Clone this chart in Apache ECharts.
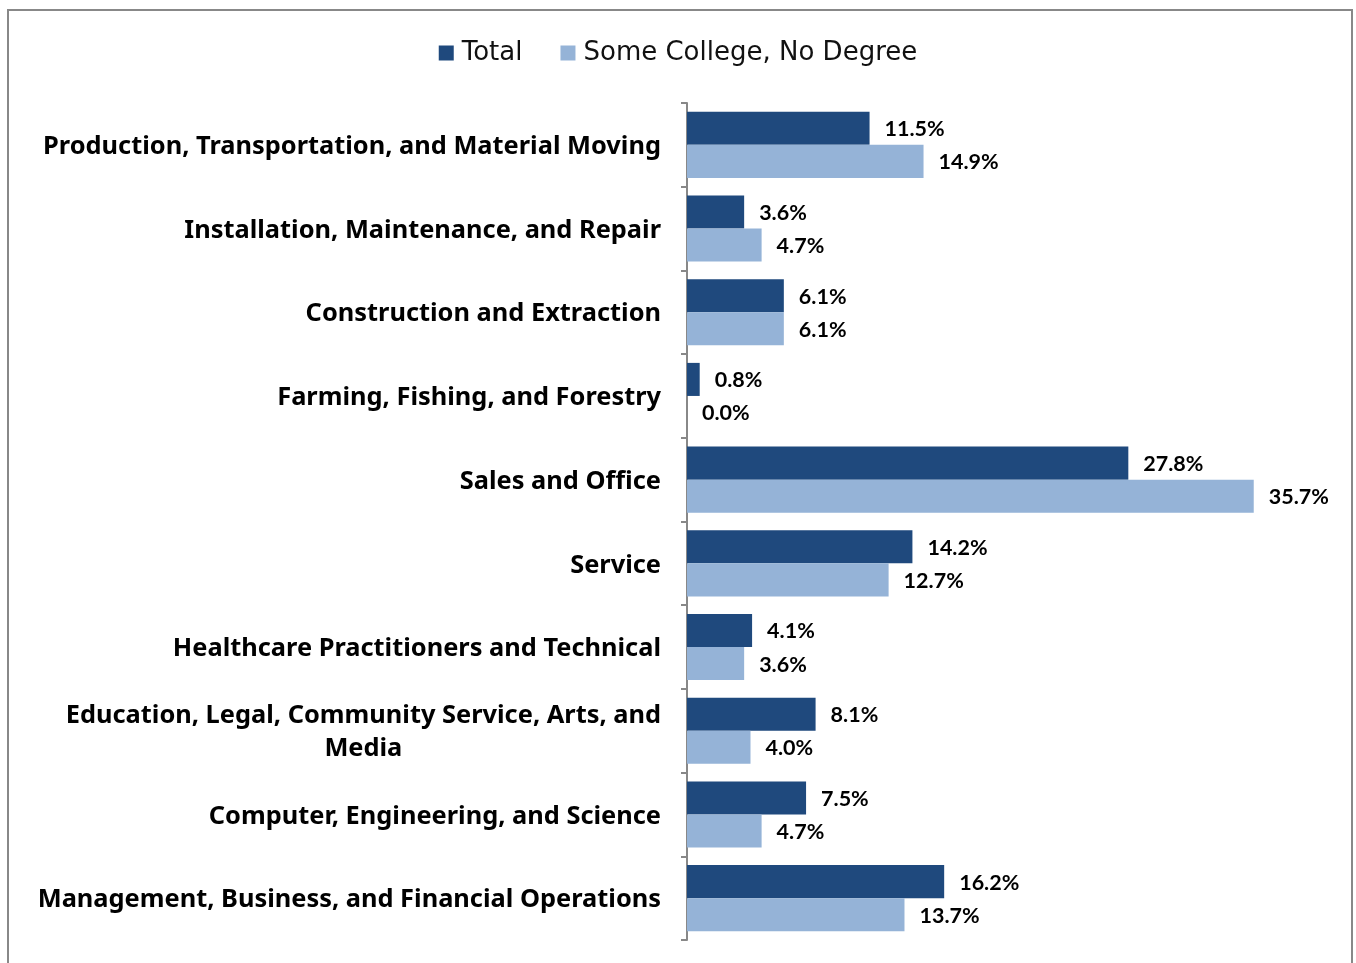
<!DOCTYPE html>
<html>
<head>
<meta charset="utf-8">
<script src="https://cdn.jsdelivr.net/npm/echarts@6/dist/echarts.min.js"></script>
<style>
  html, body { margin: 0; padding: 0; background: #fff; }
  #chart { width: 1356px; height: 963px; }
</style>
</head>
<body>
<div id="chart"></div>
<script>
// Occupation groups, listed top to bottom
const categories = [
  'Production, Transportation, and Material Moving',
  'Installation, Maintenance, and Repair',
  'Construction and Extraction',
  'Farming, Fishing, and Forestry',
  'Sales and Office',
  'Service',
  'Healthcare Practitioners and Technical',
  'Education, Legal, Community Service, Arts, and\nMedia',
  'Computer, Engineering, and Science',
  'Management, Business, and Financial Operations'
];

// Share of workers by occupation group (%)
const totalValues = [11.5, 3.6, 6.1, 0.8, 27.8, 14.2, 4.1, 8.1, 7.5, 16.2];
const someCollegeValues = [14.9, 4.7, 6.1, 0.0, 35.7, 12.7, 3.6, 4.0, 4.7, 13.7];

const seriesNames = ['Total', 'Some College, No Degree'];

const FONT = '"Century Gothic", "Noto Sans", "Open Sans", sans-serif';
const LEGEND_FONT = '"Century Gothic", "DejaVu Sans", sans-serif';
const VALUE_FONT = '"Century Gothic", Lato, sans-serif';

const chart = echarts.init(document.getElementById('chart'), null, { renderer: 'canvas' });

const valueLabel = {
  show: true,
  position: 'right',
  distance: 15,
  offset: [0, 1],
  color: '#000',
  fontFamily: VALUE_FONT,
  fontWeight: 'bold',
  fontSize: 21.5,
  formatter: p => p.value.toFixed(1) + '%'
};

chart.setOption({
  animation: false,
  backgroundColor: '#fff',
  graphic: [{
    type: 'rect',
    shape: { x: 8, y: 10, width: 1344, height: 1000 },
    style: { fill: 'none', stroke: '#888', lineWidth: 2 },
    silent: true
  }],
  legend: {
    top: 35,
    left: 'center',
    itemWidth: 15,
    itemHeight: 15,
    itemGap: 38,
    icon: 'rect',
    textStyle: { fontFamily: LEGEND_FONT, fontSize: 26, color: '#111', padding: [0, 0, 0, 3] },
    data: seriesNames
  },
  grid: { left: 687, right: 34, top: 103, bottom: 23, containLabel: false },
  xAxis: {
    type: 'value',
    min: 0,
    max: 40,
    show: false
  },
  yAxis: {
    type: 'category',
    inverse: true,
    data: categories,
    axisLine: { show: true, lineStyle: { color: '#888', width: 2 } },
    axisTick: { show: true, length: 6, lineStyle: { color: '#888', width: 2 } },
    axisLabel: {
      margin: 26,
      color: '#000',
      fontFamily: FONT,
      fontWeight: 'bold',
      fontSize: 25.4,
      lineHeight: 33,
      padding: [4, 0, 0, 0],
      formatter: v => v.indexOf('\n') >= 0
        ? v.split('\n').map(s => '{c|' + s + '}').join('\n')
        : v,
      rich: {
        c: { align: 'center', fontFamily: FONT, fontWeight: 'bold', fontSize: 25.4, color: '#000', lineHeight: 33 }
      }
    },
    splitLine: { show: false }
  },
  series: [
    {
      name: seriesNames[0],
      type: 'bar',
      data: totalValues,
      barGap: '0%',
      barCategoryGap: '21%',
      itemStyle: { color: '#1F497D' },
      label: valueLabel
    },
    {
      name: seriesNames[1],
      type: 'bar',
      data: someCollegeValues,
      barGap: '0%',
      barCategoryGap: '21%',
      itemStyle: { color: '#95B3D7' },
      label: valueLabel
    }
  ]
});
</script>
</body>
</html>
